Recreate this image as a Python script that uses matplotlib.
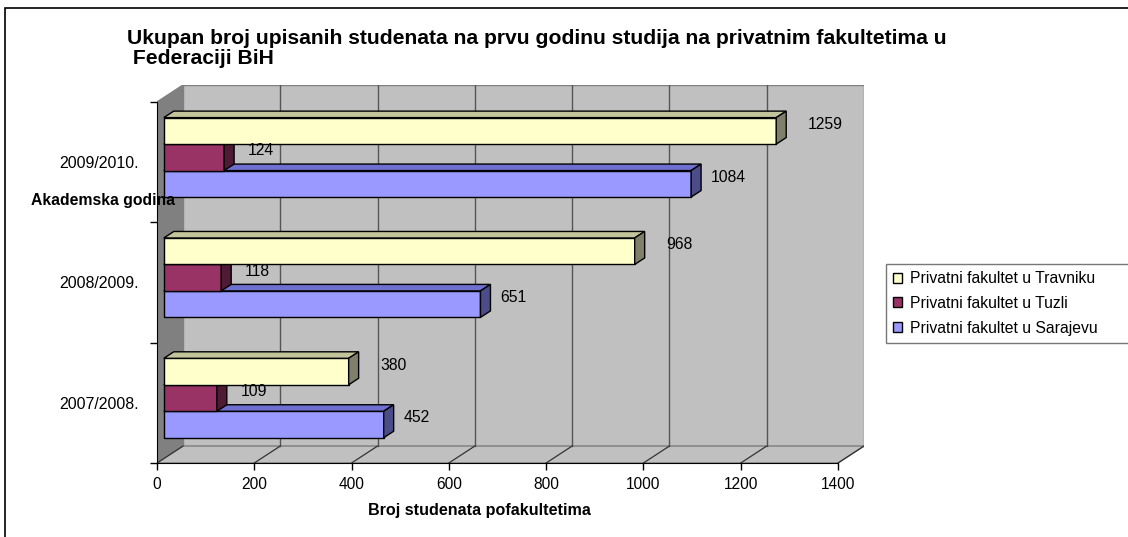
import matplotlib.pyplot as plt
from matplotlib.patches import Polygon, Rectangle, Patch

plt.rcParams["font.family"] = ["Liberation Sans", "DejaVu Sans"]

# podaci
godine = ["2007/2008.", "2008/2009.", "2009/2010."]
serije = ["Privatni fakultet u Sarajevu", "Privatni fakultet u Tuzli", "Privatni fakultet u Travniku"]
sarajevo = [452, 651, 1084]
tuzla = [109, 118, 124]
travnik = [380, 968, 1259]
vrijednosti = [sarajevo, tuzla, travnik]
x_ticks = [0, 200, 400, 600, 800, 1000, 1200, 1400]

# boje: prednja, gornja, bocna strana
boje = [("#9999ff", "#6f6fd0", "#4c4c88"),
        ("#993366", "#6e2449", "#4f1a33"),
        ("#ffffcc", "#c4c49c", "#80806a")]
label_gap = [10, 14, 22]  # px

W, H = 1128, 537
fig = plt.figure(figsize=(W / 100, H / 100), dpi=100)

# dubina zidova i stupaca (u jedinicama podataka)
Dx, Dy = 53.4, 0.141
bx0, by0 = 14, 0.04          # pomak prednje strane stupca
bdx, bdy = 20.5, 0.054       # dubina stupca
bh = 0.22

ax = fig.add_axes([157 / W, (H - 463) / H, (864 - 157) / W, (463 - 85) / H])
ax.set_xlim(0, 1400 + Dx)
ax.set_ylim(-0.5, 2.5 + Dy)

# zidovi
ax.add_patch(Rectangle((Dx, -0.5 + Dy), 1400, 3, facecolor="#c0c0c0",
                       edgecolor="#808080", lw=1, zorder=0))
ax.add_patch(Polygon([(0, -0.5), (Dx, -0.5 + Dy), (Dx, 2.5 + Dy), (0, 2.5)],
                     facecolor="#808080", edgecolor="#808080", lw=1, zorder=0))
ax.add_patch(Polygon([(0, -0.5), (1400, -0.5), (1400 + Dx, -0.5 + Dy), (Dx, -0.5 + Dy)],
                     facecolor="#c0c0c0", edgecolor="#808080", lw=1, zorder=0))
for v in x_ticks[1:-1]:
    ax.plot([v + Dx, v + Dx], [-0.5 + Dy, 2.5 + Dy], color="#555555", lw=1, zorder=1)
for v in x_ticks:
    ax.plot([v, v + Dx], [-0.5, -0.5 + Dy], color="#333333", lw=0.9, zorder=1)

# stupci
for i, vals in enumerate(vrijednosti):
    front, top, side = boje[i]
    for c, v in enumerate(vals):
        y0 = c + by0 - 1.5 * bh + i * bh
        y1 = y0 + bh
        x1 = bx0 + v
        ax.add_patch(Rectangle((bx0, y0), v, bh, facecolor=front, edgecolor="black", lw=1, zorder=3))
        ax.add_patch(Polygon([(bx0, y1), (x1, y1), (x1 + bdx, y1 + bdy), (bx0 + bdx, y1 + bdy)],
                             facecolor=top, edgecolor="black", lw=1, zorder=3))
        ax.add_patch(Polygon([(x1, y0), (x1 + bdx, y0 + bdy), (x1 + bdx, y1 + bdy), (x1, y1)],
                             facecolor=side, edgecolor="black", lw=1, zorder=3))
        ax.annotate(str(v), (x1 + bdx, (y0 + y1) / 2 + bdy), xytext=(label_gap[i] * 0.72, 0),
                    textcoords="offset points", ha="left", va="center", fontsize=11.3, zorder=4)

# osi
for s in ["top", "right"]:
    ax.spines[s].set_visible(False)
ax.spines["bottom"].set_bounds(0, 1400)
ax.spines["left"].set_bounds(-0.5, 2.5)
ax.spines["bottom"].set_zorder(5)
ax.spines["left"].set_zorder(5)
ax.set_xticks(x_ticks)
ax.set_xticklabels([str(v) for v in x_ticks], fontsize=11.2)
ax.set_yticks([-0.5, 0.5, 1.5, 2.5])
ax.set_yticklabels([])
ax.set_yticks([0, 1, 2], minor=True)
ax.set_yticklabels(godine, minor=True, fontsize=11.4)
ax.tick_params(axis="y", which="minor", length=0, pad=13)
ax.tick_params(axis="both", which="major", length=5, width=1, direction="out", pad=5)
ax.patch.set_visible(False)

fig.text(479 / W, 1 - 510 / H, "Broj studenata pofakultetima", ha="center", va="center",
         fontsize=11.6, fontweight="bold")
fig.text(31 / W, 1 - 201 / H, "Akademska godina", ha="left", va="center",
         fontsize=11.3, fontweight="bold", zorder=10)
fig.text(127 / W, 1 - 38 / H, "Ukupan broj upisanih studenata na prvu godinu studija na privatnim fakultetima u",
         ha="left", va="center", fontsize=15.25, fontweight="bold")
fig.text(127 / W, 1 - 59 / H, " Federaciji BiH",
         ha="left", va="center", fontsize=15.25, fontweight="bold")

# legenda
handles = [Patch(facecolor=boje[i][0], edgecolor="black", label=serije[i]) for i in [2, 1, 0]]
fig.legend(handles=handles, loc="upper left",
           bbox_to_anchor=(886 / W, 1 - 346 / H, (1140 - 886) / W, (346 - 264) / H),
           mode="expand", frameon=True, fancybox=False, edgecolor="#555555", fontsize=11.3,
           handlelength=0.6, handleheight=0.6, handletextpad=0.5, borderpad=0.45,
           labelspacing=0.62, borderaxespad=0)

# okvir
fig.add_artist(Rectangle((5 / W, -0.01), 1.05, 1 - 8 / H + 0.01, transform=fig.transFigure,
                         fill=False, edgecolor="black", lw=1.2))

fig.savefig("out.png", dpi=100)
